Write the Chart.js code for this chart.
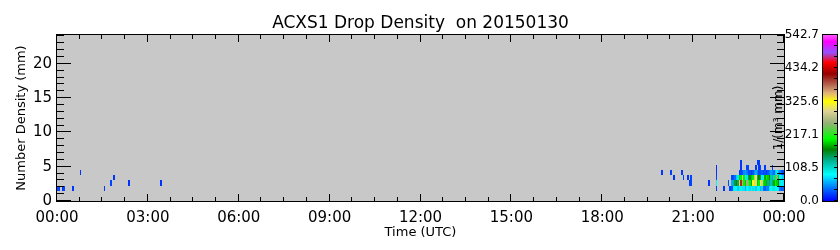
<!DOCTYPE html>
<html>
<head>
<meta charset="utf-8">
<script src="https://cdn.jsdelivr.net/npm/chart.js@4"></script>
<style>
  html, body { margin: 0; padding: 0; background: #fff; }
</style>
</head>
<body>
<canvas id="chart-1" width="840" height="250"></canvas>
<script>
// Axis ticks
const timeTicks = [0, 3, 6, 9, 12, 15, 18, 21, 24];
const timeTickLabels = ['00:00', '03:00', '06:00', '09:00', '12:00', '15:00', '18:00', '21:00', '00:00'];
const densityTicks = [0, 5, 10, 15, 20];
const colorTicks = [0.0, 108.5, 217.1, 325.6, 434.2, 542.7];
const colorMax = 542.7;

// Drop diameter bin edges (mm) and time bin width (hours)
const diamEdges = [1.5, 2.25, 3.0, 3.75, 4.5, 5.25, 6.0];
const binHours = 0.05;

// Isolated cells: start hour, diameter bin index, number density
const spotHours  = [0.00, 0.05, 0.15, 0.20, 0.50, 0.75, 1.55, 1.75, 1.85, 2.35, 3.40,
                    19.95, 20.25, 20.35, 20.60, 20.65, 20.80, 20.85, 20.90, 20.90, 21.50,
                    21.75, 21.75, 21.75, 21.75, 21.75, 22.00, 22.15, 22.20];
const spotBins   = [0, 0, 0, 0, 0, 3, 0, 1, 2, 1, 1,
                    3, 3, 2, 3, 2, 2, 1, 2, 1, 1,
                    0, 1, 2, 3, 4, 0, 1, 0];
const spotValues = [28, 22, 18, 25, 20, 18, 20, 24, 20, 18, 18,
                    20, 22, 18, 20, 22, 18, 20, 24, 26, 18,
                    22, 90, 24, 20, 18, 20, 28, 24];

// Dense block from 22:15 on, one value per 3-minute bin (null = no drops)
const blockStart = 22.25;
const blockBin0 = [30, 80, 90, 85, 70, 95, 90, 100, 80, 60, 85, 95, 75, 90, 100, 80, 70, 90,
                   85, 60, 75, 40, 35, 50, 45, 80, 90, 95, 100, 90, 85, 80, 40, 30, 35];
const blockBin1 = [60, 130, 150, 170, 140, 340, 400, 360, 200, 190, 260, 240, 200, 180, 320, 340, 300, 190,
                   200, 310, 290, 200, 190, 180, 130, 140, 120, 135, 180, 200, 190, 170, 100, 90, 80];
const blockBin2 = [25, 30, 40, 70, 80, 190, 200, 300, 200, 90, 100, 150, 160, 190, 200, 280, 310, 140,
                   170, 150, 95, 90, 180, 200, 190, 170, 120, 130, 110, 210, 250, 190, 90, 80, 70];
const blockBin3 = [null, null, null, null, null, 20, 25, 30, 50, 55, 45, 25, 30, 20, 30, 50, 60, 45,
                   25, 30, 35, 25, 30, 20, 30, 45, 55, 50, 40, 70, 80, 65, 50, 30, 25];
const blockBin4 = [null, null, null, null, null, null, 20, null, null, null, 25, 25, null, null, null, null, 20, null,
                   20, 25, null, null, 20, null, null, null, null, 20, null, null, null, null, null, null, null];
const blockBin5 = [null, null, null, null, null, null, 20, null, null, null, null, null, null, null, null, null, null, 20,
                   20, null, null, null, null, null, null, null, null, null, null, null, null, null, null, null, null];

// colour table: fraction of colorMax, r, g, b
const colorStops = [
  [0.00, 0, 0, 255], [0.08, 0, 120, 255], [0.16, 0, 255, 255], [0.24, 0, 180, 150],
  [0.31, 0, 130, 0], [0.375, 0, 255, 0], [0.47, 150, 175, 120], [0.54, 220, 210, 150],
  [0.60, 255, 255, 0], [0.65, 225, 180, 120], [0.70, 180, 100, 80], [0.765, 150, 0, 0],
  [0.835, 255, 0, 0], [0.895, 150, 80, 255], [0.96, 255, 0, 255], [1.00, 255, 90, 255]
];

function colorFor(v) {
  const f = Math.min(Math.max(v / colorMax, 0), 1);
  for (let i = 1; i < colorStops.length; i++) {
    const a = colorStops[i - 1], b = colorStops[i];
    if (f <= b[0]) {
      const t = (f - a[0]) / (b[0] - a[0]);
      const c = [1, 2, 3].map(k => Math.round(a[k] + (b[k] - a[k]) * t));
      return 'rgb(' + c.join(',') + ')';
    }
  }
  return 'rgb(255,90,255)';
}

// build the cell list
const cells = [];
spotHours.forEach((h, i) => {
  cells.push({x: h, y: diamEdges[spotBins[i]], y2: diamEdges[spotBins[i] + 1], v: spotValues[i]});
});
[blockBin0, blockBin1, blockBin2, blockBin3, blockBin4, blockBin5].forEach((row, b) => {
  row.forEach((v, i) => {
    if (v === null) return;
    cells.push({x: blockStart + i * binHours, y: diamEdges[b], y2: diamEdges[b + 1], v: v});
  });
});

const heatmap = {
  id: 'heatmap',
  beforeDatasetsDraw(chart) {
    const {ctx, chartArea: a, scales: {x, y}} = chart;
    ctx.save();
    ctx.fillStyle = '#c8c8c8';
    ctx.fillRect(a.left, a.top, a.right - a.left, a.bottom - a.top);
    ctx.beginPath();
    ctx.rect(a.left, a.top, a.right - a.left, a.bottom - a.top);
    ctx.clip();
    chart.data.datasets[0].data.forEach(c => {
      const x0 = Math.round(x.getPixelForValue(c.x));
      const x1 = Math.max(Math.round(x.getPixelForValue(c.x + binHours)), x0 + 1);
      const y0 = Math.round(y.getPixelForValue(c.y2));
      const y1 = Math.round(y.getPixelForValue(c.y));
      ctx.fillStyle = colorFor(c.v);
      ctx.fillRect(x0, y0, x1 - x0, y1 - y0);
    });
    ctx.restore();
  },
  afterDraw(chart) {
    const {ctx, chartArea: a, scales: {x, y, c}} = chart;
    ctx.save();
    ctx.strokeStyle = '#000';
    ctx.lineWidth = 1;
    // frame
    ctx.strokeRect(a.left - 0.5, a.top - 0.5, a.right - a.left + 1, a.bottom - a.top + 1);
    // inward ticks
    ctx.beginPath();
    for (let h = 0; h <= 24; h += 0.75) {
      const px = Math.round(x.getPixelForValue(h)) - 0.5;
      const len = h % 3 === 0 ? 7 : 4;
      ctx.moveTo(px, a.bottom); ctx.lineTo(px, a.bottom - len);
      ctx.moveTo(px, a.top); ctx.lineTo(px, a.top + len);
    }
    for (let d = 0; d <= 24; d += 1) {
      const py = Math.round(y.getPixelForValue(d)) - 0.5;
      const len = d % 5 === 0 ? 14 : 7;
      ctx.moveTo(a.left, py); ctx.lineTo(a.left + len, py);
      ctx.moveTo(a.right, py); ctx.lineTo(a.right - len, py);
    }
    ctx.stroke();

    // units label inside the right edge
    ctx.save();
    ctx.translate(a.right - 5, (a.top + a.bottom) / 2);
    ctx.rotate(-Math.PI / 2);
    ctx.fillStyle = '#000';
    ctx.font = '12px "DejaVu Sans"';
    ctx.textAlign = 'center';
    ctx.textBaseline = 'middle';
    ctx.fillText('1/(m\u00b3 mm)', 0, 0);
    ctx.restore();

    // colour bar
    const bx = c.right + 3, bw = 16;
    const top = c.getPixelForValue(colorMax), bot = c.getPixelForValue(0);
    const g = ctx.createLinearGradient(0, bot, 0, top);
    colorStops.forEach(s => g.addColorStop(s[0], 'rgb(' + s[1] + ',' + s[2] + ',' + s[3] + ')'));
    ctx.fillStyle = g;
    ctx.fillRect(bx, top, bw, bot - top);
    ctx.strokeRect(bx + 0.5, top - 0.5, bw - 1, bot - top + 1);
    ctx.beginPath();
    for (let i = 1; i < colorTicks.length; i++) {
      const lo = colorTicks[i - 1], hi = colorTicks[i];
      [lo, lo + (hi - lo) / 3, lo + 2 * (hi - lo) / 3].forEach(v => {
        const py = Math.round(c.getPixelForValue(v)) - 0.5;
        ctx.moveTo(bx + bw, py); ctx.lineTo(bx + bw - 4, py);
      });
    }
    ctx.stroke();
    ctx.restore();
  }
};

Chart.defaults.font.family = '"DejaVu Sans"';
Chart.defaults.color = '#000';

new Chart(document.getElementById('chart-1'), {
  type: 'scatter',
  data: {
    datasets: [{
      label: 'Drop density',
      data: cells,
      pointRadius: 0,
      pointHoverRadius: 0
    }]
  },
  options: {
    responsive: false,
    animation: false,
    events: [],
    layout: { padding: { left: 0, right: 21, top: 0, bottom: 0 } },
    plugins: {
      legend: { display: false },
      tooltip: { enabled: false },
      title: {
        display: true,
        fullSize: false,
        text: 'ACXS1 Drop Density  on 20150130',
        font: { size: 17, weight: 'normal' },
        padding: { top: 13, bottom: 1.6 }
      }
    },
    scales: {
      x: {
        type: 'linear',
        position: 'bottom',
        min: 0,
        max: 24,
        afterBuildTicks: s => { s.ticks = timeTicks.map(v => ({value: v})); },
        afterFit: s => { s.height = 49; },
        grid: { display: false, drawTicks: false },
        border: { display: false },
        ticks: {
          padding: 8,
          maxRotation: 0,
          font: { size: 15 },
          callback: (v, i) => timeTickLabels[i]
        },
        title: {
          display: true,
          text: 'Time (UTC)',
          font: { size: 13 },
          padding: { top: 0, bottom: 10 }
        }
      },
      y: {
        type: 'linear',
        position: 'left',
        min: 0,
        max: 24.2,
        afterBuildTicks: s => { s.ticks = densityTicks.map(v => ({value: v})); },
        afterFit: s => { s.width = 57; },
        grid: { display: false, drawTicks: false },
        border: { display: false },
        ticks: { padding: 5, font: { size: 15 } },
        title: {
          display: true,
          text: 'Number Density (mm)',
          font: { size: 13 },
          padding: { top: 14, bottom: 0 }
        }
      },
      c: {
        type: 'linear',
        axis: 'y',
        position: 'right',
        min: 0,
        max: colorMax,
        afterBuildTicks: s => { s.ticks = colorTicks.map(v => ({value: v})); },
        afterFit: s => { s.width = 35; },
        grid: { display: false, drawTicks: false },
        border: { display: false },
        ticks: {
          padding: 0,
          crossAlign: 'far',
          font: { size: 12 },
          callback: v => v.toFixed(1)
        }
      }
    }
  },
  plugins: [heatmap]
});
</script>
</body>
</html>
